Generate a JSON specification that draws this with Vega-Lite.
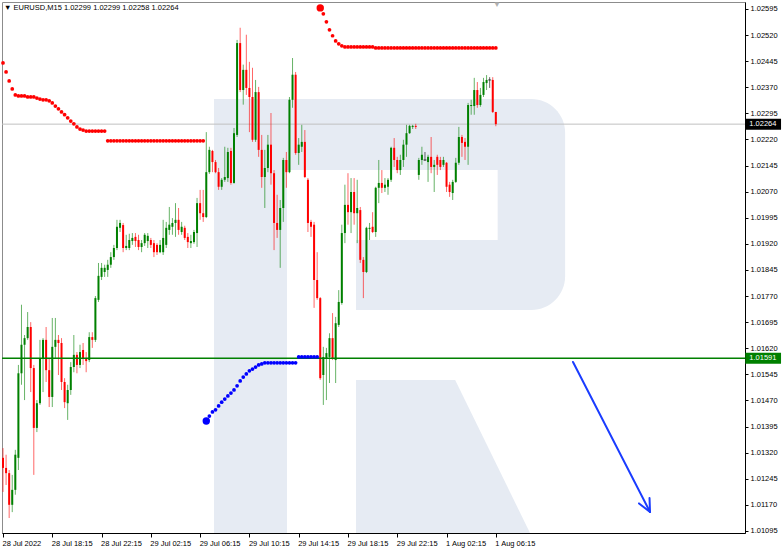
{
"$schema":"https://vega.github.io/schema/vega-lite/v6.json",
"width":743,"height":531,
"autosize":{"type":"none"},
"padding":{"left":2,"top":2,"right":37,"bottom":17},
"background":"#ffffff",
"config":{"view":{"stroke":"#8c8c8c","strokeWidth":1},"axis":{"labelFont":"Liberation Sans","labelFontSize":7.5,"labelColor":"#000000","domainColor":"#000000","tickColor":"#000000","grid":false,"labelOverlap":false}},
"datasets":{
"candles":[
{"i":0,"o":1.01305,"h":1.01333,"l":1.01207,"c":1.01276},
{"i":1,"o":1.01276,"h":1.01314,"l":1.01227,"c":1.01261},
{"i":2,"o":1.01261,"h":1.01270,"l":1.01132,"c":1.01170},
{"i":3,"o":1.01170,"h":1.01256,"l":1.01149,"c":1.01213},
{"i":4,"o":1.01213,"h":1.01328,"l":1.01199,"c":1.01314},
{"i":5,"o":1.01305,"h":1.01572,"l":1.01270,"c":1.01548},
{"i":6,"o":1.01548,"h":1.01745,"l":1.01515,"c":1.01630},
{"i":7,"o":1.01630,"h":1.01658,"l":1.01471,"c":1.01649},
{"i":8,"o":1.01649,"h":1.01724,"l":1.01644,"c":1.01681},
{"i":9,"o":1.01681,"h":1.01695,"l":1.01494,"c":1.01563},
{"i":10,"o":1.01563,"h":1.01572,"l":1.01256,"c":1.01391},
{"i":11,"o":1.01391,"h":1.01471,"l":1.01379,"c":1.01462},
{"i":12,"o":1.01462,"h":1.01644,"l":1.01457,"c":1.01592},
{"i":13,"o":1.01592,"h":1.01649,"l":1.01494,"c":1.01644},
{"i":14,"o":1.01644,"h":1.01681,"l":1.01523,"c":1.01557},
{"i":15,"o":1.01557,"h":1.01592,"l":1.01451,"c":1.01480},
{"i":16,"o":1.01480,"h":1.01707,"l":1.01451,"c":1.01624},
{"i":17,"o":1.01624,"h":1.01707,"l":1.01592,"c":1.01644},
{"i":18,"o":1.01644,"h":1.01658,"l":1.01543,"c":1.01635},
{"i":19,"o":1.01635,"h":1.01649,"l":1.01500,"c":1.01523},
{"i":20,"o":1.01523,"h":1.01534,"l":1.01448,"c":1.01465},
{"i":21,"o":1.01462,"h":1.01515,"l":1.01414,"c":1.01500},
{"i":22,"o":1.01500,"h":1.01580,"l":1.01486,"c":1.01566},
{"i":23,"o":1.01566,"h":1.01658,"l":1.01551,"c":1.01601},
{"i":24,"o":1.01601,"h":1.01609,"l":1.01548,"c":1.01572},
{"i":25,"o":1.01572,"h":1.01630,"l":1.01563,"c":1.01609},
{"i":26,"o":1.01615,"h":1.01635,"l":1.01572,"c":1.01592},
{"i":27,"o":1.01592,"h":1.01609,"l":1.01551,"c":1.01583},
{"i":28,"o":1.01586,"h":1.01666,"l":1.01580,"c":1.01652},
{"i":29,"o":1.01652,"h":1.01666,"l":1.01621,"c":1.01644},
{"i":30,"o":1.01644,"h":1.01770,"l":1.01638,"c":1.01764},
{"i":31,"o":1.01759,"h":1.01865,"l":1.01753,"c":1.01828},
{"i":32,"o":1.01825,"h":1.01865,"l":1.01816,"c":1.01851},
{"i":33,"o":1.01839,"h":1.01860,"l":1.01825,"c":1.01851},
{"i":34,"o":1.01845,"h":1.01874,"l":1.01825,"c":1.01860},
{"i":35,"o":1.01860,"h":1.01896,"l":1.01851,"c":1.01882},
{"i":36,"o":1.01882,"h":1.01917,"l":1.01874,"c":1.01908},
{"i":37,"o":1.01908,"h":1.01989,"l":1.01902,"c":1.01969},
{"i":38,"o":1.01966,"h":1.01989,"l":1.01954,"c":1.01980},
{"i":39,"o":1.01974,"h":1.01980,"l":1.01896,"c":1.01908},
{"i":40,"o":1.01908,"h":1.01946,"l":1.01902,"c":1.01914},
{"i":41,"o":1.01908,"h":1.01949,"l":1.01902,"c":1.01931},
{"i":42,"o":1.01928,"h":1.01951,"l":1.01917,"c":1.01937},
{"i":43,"o":1.01940,"h":1.01951,"l":1.01911,"c":1.01928},
{"i":44,"o":1.01931,"h":1.01946,"l":1.01902,"c":1.01911},
{"i":45,"o":1.01911,"h":1.01931,"l":1.01896,"c":1.01922},
{"i":46,"o":1.01922,"h":1.01951,"l":1.01914,"c":1.01946},
{"i":47,"o":1.01928,"h":1.01951,"l":1.01908,"c":1.01943},
{"i":48,"o":1.01931,"h":1.01937,"l":1.01908,"c":1.01917},
{"i":49,"o":1.01922,"h":1.01931,"l":1.01882,"c":1.01896},
{"i":50,"o":1.01917,"h":1.01922,"l":1.01888,"c":1.01896},
{"i":51,"o":1.01896,"h":1.01931,"l":1.01893,"c":1.01917},
{"i":52,"o":1.01896,"h":1.01989,"l":1.01888,"c":1.01937},
{"i":53,"o":1.01917,"h":1.01983,"l":1.01908,"c":1.01966},
{"i":54,"o":1.01960,"h":1.02026,"l":1.01946,"c":1.01975},
{"i":55,"o":1.01969,"h":1.01994,"l":1.01946,"c":1.01980},
{"i":56,"o":1.01980,"h":1.02037,"l":1.01940,"c":1.01989},
{"i":57,"o":1.01989,"h":1.02023,"l":1.01946,"c":1.01960},
{"i":58,"o":1.01954,"h":1.01983,"l":1.01946,"c":1.01969},
{"i":59,"o":1.01966,"h":1.01972,"l":1.01931,"c":1.01937},
{"i":60,"o":1.01940,"h":1.01951,"l":1.01908,"c":1.01925},
{"i":61,"o":1.01922,"h":1.01946,"l":1.01908,"c":1.01928},
{"i":62,"o":1.01925,"h":1.01960,"l":1.01920,"c":1.01954},
{"i":63,"o":1.01951,"h":1.02052,"l":1.01911,"c":1.02037},
{"i":64,"o":1.02037,"h":1.02075,"l":1.01989,"c":1.02008},
{"i":65,"o":1.02008,"h":1.02075,"l":1.01983,"c":1.01997},
{"i":66,"o":1.01997,"h":1.02241,"l":1.01994,"c":1.02126},
{"i":67,"o":1.02126,"h":1.02199,"l":1.02121,"c":1.02190},
{"i":68,"o":1.02187,"h":1.02190,"l":1.02126,"c":1.02155},
{"i":69,"o":1.02155,"h":1.02161,"l":1.02123,"c":1.02126},
{"i":70,"o":1.02126,"h":1.02138,"l":1.02075,"c":1.02084},
{"i":71,"o":1.02084,"h":1.02109,"l":1.02075,"c":1.02104},
{"i":72,"o":1.02104,"h":1.02199,"l":1.02098,"c":1.02112},
{"i":73,"o":1.02109,"h":1.02196,"l":1.02098,"c":1.02184},
{"i":74,"o":1.02187,"h":1.02196,"l":1.02090,"c":1.02095},
{"i":75,"o":1.02095,"h":1.02253,"l":1.02093,"c":1.02238},
{"i":76,"o":1.02233,"h":1.02506,"l":1.02227,"c":1.02497},
{"i":77,"o":1.02497,"h":1.02541,"l":1.02356,"c":1.02362},
{"i":78,"o":1.02362,"h":1.02435,"l":1.02320,"c":1.02420},
{"i":79,"o":1.02420,"h":1.02521,"l":1.02348,"c":1.02368},
{"i":80,"o":1.02368,"h":1.02443,"l":1.02241,"c":1.02342},
{"i":81,"o":1.02342,"h":1.02426,"l":1.02213,"c":1.02219},
{"i":82,"o":1.02219,"h":1.02391,"l":1.02213,"c":1.02356},
{"i":83,"o":1.02356,"h":1.02371,"l":1.02170,"c":1.02190},
{"i":84,"o":1.02190,"h":1.02233,"l":1.02081,"c":1.02112},
{"i":85,"o":1.02112,"h":1.02190,"l":1.02023,"c":1.02138},
{"i":86,"o":1.02138,"h":1.02233,"l":1.02126,"c":1.02205},
{"i":87,"o":1.02205,"h":1.02296,"l":1.02090,"c":1.02123},
{"i":88,"o":1.02123,"h":1.02132,"l":1.01902,"c":1.01980},
{"i":89,"o":1.01980,"h":1.02061,"l":1.01937,"c":1.01960},
{"i":90,"o":1.01960,"h":1.02046,"l":1.01851,"c":1.02023},
{"i":91,"o":1.02023,"h":1.02167,"l":1.01983,"c":1.02161},
{"i":92,"o":1.02161,"h":1.02184,"l":1.02081,"c":1.02126},
{"i":93,"o":1.02126,"h":1.02342,"l":1.02123,"c":1.02334},
{"i":94,"o":1.02334,"h":1.02454,"l":1.02311,"c":1.02406},
{"i":95,"o":1.02406,"h":1.02414,"l":1.02176,"c":1.02181},
{"i":96,"o":1.02181,"h":1.02224,"l":1.02147,"c":1.02205},
{"i":97,"o":1.02199,"h":1.02262,"l":1.02184,"c":1.02213},
{"i":98,"o":1.02213,"h":1.02247,"l":1.02109,"c":1.02112},
{"i":99,"o":1.02104,"h":1.02109,"l":1.01954,"c":1.01980},
{"i":100,"o":1.01983,"h":1.01989,"l":1.01940,"c":1.01969},
{"i":101,"o":1.01975,"h":1.01983,"l":1.01736,"c":1.01816},
{"i":102,"o":1.01816,"h":1.01896,"l":1.01759,"c":1.01764},
{"i":103,"o":1.01764,"h":1.01767,"l":1.01529,"c":1.01534},
{"i":104,"o":1.01543,"h":1.01624,"l":1.01457,"c":1.01595},
{"i":105,"o":1.01592,"h":1.01621,"l":1.01471,"c":1.01606},
{"i":106,"o":1.01595,"h":1.01663,"l":1.01520,"c":1.01649},
{"i":107,"o":1.01649,"h":1.01721,"l":1.01586,"c":1.01592},
{"i":108,"o":1.01586,"h":1.01710,"l":1.01520,"c":1.01692},
{"i":109,"o":1.01687,"h":1.01787,"l":1.01681,"c":1.01753},
{"i":110,"o":1.01750,"h":1.01975,"l":1.01745,"c":1.01951},
{"i":111,"o":1.01951,"h":1.02090,"l":1.01922,"c":1.02032},
{"i":112,"o":1.02032,"h":1.02123,"l":1.01975,"c":1.02011},
{"i":113,"o":1.02011,"h":1.02109,"l":1.01951,"c":1.02069},
{"i":114,"o":1.02069,"h":1.02109,"l":1.01975,"c":1.02008},
{"i":115,"o":1.02008,"h":1.02104,"l":1.01922,"c":1.02023},
{"i":116,"o":1.02017,"h":1.02026,"l":1.01865,"c":1.01874},
{"i":117,"o":1.01874,"h":1.01882,"l":1.01764,"c":1.01839},
{"i":118,"o":1.01839,"h":1.01969,"l":1.01836,"c":1.01966},
{"i":119,"o":1.01963,"h":1.01980,"l":1.01931,"c":1.01966},
{"i":120,"o":1.01969,"h":1.02011,"l":1.01951,"c":1.01954},
{"i":121,"o":1.01954,"h":1.02084,"l":1.01940,"c":1.02081},
{"i":122,"o":1.02081,"h":1.02161,"l":1.02037,"c":1.02095},
{"i":123,"o":1.02095,"h":1.02132,"l":1.02066,"c":1.02081},
{"i":124,"o":1.02081,"h":1.02109,"l":1.02069,"c":1.02090},
{"i":125,"o":1.02084,"h":1.02109,"l":1.02061,"c":1.02104},
{"i":126,"o":1.02104,"h":1.02199,"l":1.02098,"c":1.02196},
{"i":127,"o":1.02196,"h":1.02224,"l":1.02141,"c":1.02161},
{"i":128,"o":1.02161,"h":1.02170,"l":1.02123,"c":1.02132},
{"i":129,"o":1.02132,"h":1.02176,"l":1.02118,"c":1.02161},
{"i":130,"o":1.02161,"h":1.02219,"l":1.02141,"c":1.02205},
{"i":131,"o":1.02205,"h":1.02262,"l":1.02170,"c":1.02238},
{"i":132,"o":1.02238,"h":1.02262,"l":1.02236,"c":1.02259},
{"i":133,"o":1.02256,"h":1.02262,"l":1.02250,"c":1.02259},
{"i":134,"o":1.02259,"h":1.02265,"l":1.02250,"c":1.02256},
{"i":135,"o":1.02118,"h":1.02167,"l":1.02104,"c":1.02161},
{"i":136,"o":1.02161,"h":1.02199,"l":1.02147,"c":1.02176},
{"i":137,"o":1.02161,"h":1.02184,"l":1.02158,"c":1.02161},
{"i":138,"o":1.02155,"h":1.02176,"l":1.02098,"c":1.02170},
{"i":139,"o":1.02170,"h":1.02227,"l":1.02123,"c":1.02141},
{"i":140,"o":1.02141,"h":1.02161,"l":1.02069,"c":1.02147},
{"i":141,"o":1.02170,"h":1.02176,"l":1.02118,"c":1.02147},
{"i":142,"o":1.02161,"h":1.02170,"l":1.02132,"c":1.02141},
{"i":143,"o":1.02147,"h":1.02170,"l":1.02141,"c":1.02161},
{"i":144,"o":1.02153,"h":1.02155,"l":1.02069,"c":1.02084},
{"i":145,"o":1.02090,"h":1.02098,"l":1.02055,"c":1.02069},
{"i":146,"o":1.02066,"h":1.02104,"l":1.02046,"c":1.02098},
{"i":147,"o":1.02098,"h":1.02167,"l":1.02095,"c":1.02153},
{"i":148,"o":1.02153,"h":1.02256,"l":1.02147,"c":1.02227},
{"i":149,"o":1.02227,"h":1.02233,"l":1.02170,"c":1.02210},
{"i":150,"o":1.02213,"h":1.02224,"l":1.02161,"c":1.02199},
{"i":151,"o":1.02199,"h":1.02325,"l":1.02147,"c":1.02319},
{"i":152,"o":1.02316,"h":1.02334,"l":1.02291,"c":1.02319},
{"i":153,"o":1.02316,"h":1.02397,"l":1.02291,"c":1.02362},
{"i":154,"o":1.02362,"h":1.02385,"l":1.02311,"c":1.02319},
{"i":155,"o":1.02319,"h":1.02368,"l":1.02314,"c":1.02348},
{"i":156,"o":1.02348,"h":1.02397,"l":1.02342,"c":1.02385},
{"i":157,"o":1.02382,"h":1.02405,"l":1.02362,"c":1.02391},
{"i":158,"o":1.02391,"h":1.02399,"l":1.02368,"c":1.02391},
{"i":159,"o":1.02391,"h":1.02399,"l":1.02296,"c":1.02299},
{"i":160,"o":1.02299,"h":1.02299,"l":1.02258,"c":1.02264}
],
"sar":[
{"i":0,"v":1.02440,"s":"r"},{"i":1,"v":1.02414,"s":"r"},{"i":2,"v":1.02388,"s":"r"},{"i":3,"v":1.02365,"s":"r"},{"i":4,"v":1.02348,"s":"r"},{"i":5,"v":1.02345,"s":"r"},{"i":6,"v":1.02345,"s":"r"},{"i":7,"v":1.02345,"s":"r"},{"i":8,"v":1.02342,"s":"r"},{"i":9,"v":1.02342,"s":"r"},{"i":10,"v":1.02342,"s":"r"},{"i":11,"v":1.02339,"s":"r"},{"i":12,"v":1.02336,"s":"r"},{"i":13,"v":1.02334,"s":"r"},{"i":14,"v":1.02334,"s":"r"},{"i":15,"v":1.02331,"s":"r"},{"i":16,"v":1.02325,"s":"r"},{"i":17,"v":1.02316,"s":"r"},{"i":18,"v":1.02308,"s":"r"},{"i":19,"v":1.02299,"s":"r"},{"i":20,"v":1.02291,"s":"r"},{"i":21,"v":1.02282,"s":"r"},{"i":22,"v":1.02273,"s":"r"},{"i":23,"v":1.02265,"s":"r"},{"i":24,"v":1.02256,"s":"r"},{"i":25,"v":1.02250,"s":"r"},{"i":26,"v":1.02247,"s":"r"},{"i":27,"v":1.02244,"s":"r"},{"i":28,"v":1.02244,"s":"r"},{"i":29,"v":1.02244,"s":"r"},{"i":30,"v":1.02244,"s":"r"},{"i":31,"v":1.02244,"s":"r"},{"i":32,"v":1.02244,"s":"r"},{"i":33,"v":1.02244,"s":"r"},
{"i":34,"v":1.02216,"s":"r"},{"i":35,"v":1.02216,"s":"r"},{"i":36,"v":1.02216,"s":"r"},{"i":37,"v":1.02216,"s":"r"},{"i":38,"v":1.02216,"s":"r"},{"i":39,"v":1.02216,"s":"r"},{"i":40,"v":1.02216,"s":"r"},{"i":41,"v":1.02216,"s":"r"},{"i":42,"v":1.02216,"s":"r"},{"i":43,"v":1.02216,"s":"r"},{"i":44,"v":1.02216,"s":"r"},{"i":45,"v":1.02216,"s":"r"},{"i":46,"v":1.02216,"s":"r"},{"i":47,"v":1.02216,"s":"r"},{"i":48,"v":1.02216,"s":"r"},{"i":49,"v":1.02216,"s":"r"},{"i":50,"v":1.02216,"s":"r"},{"i":51,"v":1.02216,"s":"r"},{"i":52,"v":1.02216,"s":"r"},{"i":53,"v":1.02216,"s":"r"},{"i":54,"v":1.02216,"s":"r"},{"i":55,"v":1.02216,"s":"r"},{"i":56,"v":1.02216,"s":"r"},{"i":57,"v":1.02216,"s":"r"},{"i":58,"v":1.02216,"s":"r"},{"i":59,"v":1.02216,"s":"r"},{"i":60,"v":1.02216,"s":"r"},{"i":61,"v":1.02216,"s":"r"},{"i":62,"v":1.02216,"s":"r"},{"i":63,"v":1.02216,"s":"r"},{"i":64,"v":1.02216,"s":"r"},{"i":65,"v":1.02216,"s":"r"},
{"i":66,"v":1.01411,"s":"b"},{"i":67,"v":1.01425,"s":"b"},{"i":68,"v":1.01437,"s":"b"},{"i":69,"v":1.01443,"s":"b"},{"i":70,"v":1.01454,"s":"b"},{"i":71,"v":1.01465,"s":"b"},{"i":72,"v":1.01474,"s":"b"},{"i":73,"v":1.01483,"s":"b"},{"i":74,"v":1.01491,"s":"b"},{"i":75,"v":1.01500,"s":"b"},{"i":76,"v":1.01512,"s":"b"},{"i":77,"v":1.01526,"s":"b"},{"i":78,"v":1.01537,"s":"b"},{"i":79,"v":1.01546,"s":"b"},{"i":80,"v":1.01555,"s":"b"},{"i":81,"v":1.01560,"s":"b"},{"i":82,"v":1.01566,"s":"b"},{"i":83,"v":1.01572,"s":"b"},{"i":84,"v":1.01575,"s":"b"},{"i":85,"v":1.01578,"s":"b"},{"i":86,"v":1.01578,"s":"b"},{"i":87,"v":1.01578,"s":"b"},{"i":88,"v":1.01578,"s":"b"},{"i":89,"v":1.01578,"s":"b"},{"i":90,"v":1.01578,"s":"b"},{"i":91,"v":1.01578,"s":"b"},{"i":92,"v":1.01578,"s":"b"},{"i":93,"v":1.01578,"s":"b"},{"i":94,"v":1.01578,"s":"b"},{"i":95,"v":1.01578,"s":"b"},{"i":96,"v":1.01595,"s":"b"},{"i":97,"v":1.01595,"s":"b"},{"i":98,"v":1.01595,"s":"b"},{"i":99,"v":1.01595,"s":"b"},{"i":100,"v":1.01595,"s":"b"},{"i":101,"v":1.01595,"s":"b"},{"i":102,"v":1.01595,"s":"b"},
{"i":103,"v":1.02598,"s":"r"},{"i":104,"v":1.02581,"s":"r"},{"i":105,"v":1.02558,"s":"r"},{"i":106,"v":1.02535,"s":"r"},{"i":107,"v":1.02518,"s":"r"},{"i":108,"v":1.02503,"s":"r"},{"i":109,"v":1.02495,"s":"r"},{"i":110,"v":1.02489,"s":"r"},{"i":111,"v":1.02486,"s":"r"},{"i":112,"v":1.02486,"s":"r"},{"i":113,"v":1.02486,"s":"r"},{"i":114,"v":1.02486,"s":"r"},{"i":115,"v":1.02486,"s":"r"},{"i":116,"v":1.02486,"s":"r"},{"i":117,"v":1.02486,"s":"r"},{"i":118,"v":1.02486,"s":"r"},{"i":119,"v":1.02486,"s":"r"},{"i":120,"v":1.02486,"s":"r"},
{"i":121,"v":1.02483,"s":"r"},{"i":122,"v":1.02483,"s":"r"},{"i":123,"v":1.02483,"s":"r"},{"i":124,"v":1.02483,"s":"r"},{"i":125,"v":1.02483,"s":"r"},{"i":126,"v":1.02483,"s":"r"},{"i":127,"v":1.02483,"s":"r"},{"i":128,"v":1.02483,"s":"r"},{"i":129,"v":1.02483,"s":"r"},{"i":130,"v":1.02483,"s":"r"},{"i":131,"v":1.02483,"s":"r"},{"i":132,"v":1.02483,"s":"r"},{"i":133,"v":1.02483,"s":"r"},{"i":134,"v":1.02483,"s":"r"},{"i":135,"v":1.02483,"s":"r"},{"i":136,"v":1.02483,"s":"r"},{"i":137,"v":1.02483,"s":"r"},{"i":138,"v":1.02483,"s":"r"},{"i":139,"v":1.02483,"s":"r"},{"i":140,"v":1.02483,"s":"r"},{"i":141,"v":1.02483,"s":"r"},{"i":142,"v":1.02483,"s":"r"},{"i":143,"v":1.02483,"s":"r"},{"i":144,"v":1.02483,"s":"r"},{"i":145,"v":1.02483,"s":"r"},{"i":146,"v":1.02483,"s":"r"},{"i":147,"v":1.02483,"s":"r"},{"i":148,"v":1.02483,"s":"r"},{"i":149,"v":1.02483,"s":"r"},{"i":150,"v":1.02483,"s":"r"},{"i":151,"v":1.02483,"s":"r"},{"i":152,"v":1.02483,"s":"r"},{"i":153,"v":1.02483,"s":"r"},{"i":154,"v":1.02483,"s":"r"},{"i":155,"v":1.02483,"s":"r"},{"i":156,"v":1.02483,"s":"r"},{"i":157,"v":1.02483,"s":"r"},{"i":158,"v":1.02483,"s":"r"},{"i":159,"v":1.02483,"s":"r"},{"i":160,"v":1.02483,"s":"r"}
],
"logo":[
{"x1":68.5,"x2":92.2,"y1":1.02336,"y2":1.01089},
{"x1":68.5,"x2":166,"y1":1.02336,"y2":1.02132},
{"x1":114.6,"x2":166,"y1":1.01931,"y2":1.0173}
],
"bowl":[{"x1":160.6,"x2":182.5,"y1":1.02336,"y2":1.0173}],
"leg":[{"p":1.01529,"xl":114.6,"xr":146.8},{"p":1.01089,"xl":114.6,"xr":171.1}],
"arrow":[
{"x":185.06,"y":1.015806,"x2":210.06,"y2":1.011495},
{"x":209.9,"y":1.011897,"x2":210.06,"y2":1.011495},
{"x":206.5,"y":1.01174,"x2":210.06,"y2":1.011495}
],
"tags":[{"p":1.02264,"t":"1.02264","bg":"#000000"},{"p":1.01591,"t":"1.01591","bg":"#008000"}]
},
"layer":[
{"data":{"name":"candles"},"mark":{"type":"rule","opacity":0},
 "encoding":{
 "x":{"field":"i","type":"quantitative","scale":{"domain":[-0.325,240.9],"nice":false,"zero":false,"padding":0},
  "axis":{"title":null,"values":[0,16,32,48,64,80,96,112,128,144,160],"tickCount":50,"labelAlign":"left","labelPadding":2,"tickSize":4,"labelOffset":-1,"labelOverlap":false,
  "labelExpr":"['28 Jul 2022','28 Jul 18:15','28 Jul 22:15','29 Jul 02:15','29 Jul 06:15','29 Jul 10:15','29 Jul 14:15','29 Jul 18:15','29 Jul 22:15','1 Aug 02:15','1 Aug 06:15'][round(datum.value/16)]"}},
 "y":{"field":"l","type":"quantitative","scale":{"domain":[1.01089,1.02615],"nice":false,"zero":false,"padding":0},
  "axis":{"title":null,"orient":"right","values":[1.01095,1.0117,1.01245,1.0132,1.01395,1.0147,1.01545,1.0162,1.01695,1.0177,1.01845,1.0192,1.01995,1.0207,1.02145,1.0222,1.02295,1.0237,1.02445,1.0252,1.02595],"tickCount":50,"format":".5f","tickSize":3,"labelPadding":2,"labelOverlap":false}},
 "y2":{"field":"h"}}},
{"data":{"name":"logo"},"mark":{"type":"rect","color":"#e6ebf3"},
 "encoding":{"x":{"field":"x1","type":"quantitative","title":null},"x2":{"field":"x2"},
 "y":{"field":"y1","type":"quantitative","title":null},"y2":{"field":"y2"}}},
{"data":{"name":"bowl"},"mark":{"type":"rect","color":"#e6ebf3","cornerRadiusTopRight":38,"cornerRadiusBottomRight":38},
 "encoding":{"x":{"field":"x1","type":"quantitative","title":null},"x2":{"field":"x2"},
 "y":{"field":"y1","type":"quantitative","title":null},"y2":{"field":"y2"}}},
{"data":{"name":"leg"},"mark":{"type":"area","orient":"horizontal","color":"#e6ebf3"},
 "encoding":{"y":{"field":"p","type":"quantitative","title":null},
 "x":{"field":"xl","type":"quantitative","title":null},"x2":{"field":"xr"}}},
{"data":{"values":[{}]},"mark":{"type":"rule","color":"#c0c0c0","strokeWidth":1},
 "encoding":{"y":{"datum":1.02264,"type":"quantitative","title":null}}},
{"data":{"name":"candles"},"mark":{"type":"rule","strokeWidth":1,"opacity":0.6},
 "encoding":{
 "x":{"field":"i","type":"quantitative","title":null},
 "y":{"field":"l","type":"quantitative","title":null},
 "y2":{"field":"h"},
 "color":{"condition":[{"test":"datum.c>datum.o","value":"#008000"},{"test":"datum.c<datum.o","value":"#ff0000"}],"value":"#000000"}}},
{"data":{"name":"candles"},"mark":{"type":"bar","size":2},
 "encoding":{"x":{"field":"i","type":"quantitative","title":null},
 "y":{"field":"o","type":"quantitative","title":null},"y2":{"field":"c"},
 "color":{"condition":{"test":"datum.c>datum.o","value":"#008000"},"value":"#ff0000"}}},
{"data":{"name":"candles"},"transform":[{"filter":"datum.o==datum.c"}],"mark":{"type":"tick","orient":"horizontal","size":3,"thickness":1,"color":"#000000"},
 "encoding":{"x":{"field":"i","type":"quantitative","title":null},
 "y":{"field":"o","type":"quantitative","title":null}}},
{"data":{"values":[{}]},"mark":{"type":"rule","color":"#008000","strokeWidth":1.5},
 "encoding":{"y":{"datum":1.01591,"type":"quantitative","title":null}}},
{"data":{"name":"sar"},"mark":{"type":"circle","opacity":1},
 "encoding":{"x":{"field":"i","type":"quantitative","title":null},
 "y":{"field":"v","type":"quantitative","title":null},
 "size":{"condition":{"test":"datum.i==66||datum.i==103","value":55},"value":14},
 "color":{"condition":{"test":"datum.s=='b'","value":"#0000ff"},"value":"#ff0000"}}},
{"data":{"name":"arrow"},"mark":{"type":"rule","color":"#1a3cff","strokeWidth":2,"strokeCap":"round"},
 "encoding":{"x":{"field":"x","type":"quantitative","title":null},"x2":{"field":"x2"},
 "y":{"field":"y","type":"quantitative","title":null},"y2":{"field":"y2"}}},
{"data":{"name":"tags"},"mark":{"type":"rect","yOffset":-5.5,"y2Offset":5.5},
 "encoding":{"x":{"datum":241.0,"type":"quantitative","title":null},"x2":{"datum":252.6},
 "y":{"field":"p","type":"quantitative","title":null},"y2":{"field":"p"},
 "color":{"field":"bg","type":"nominal","scale":null}}},
{"data":{"name":"tags"},"mark":{"type":"text","align":"left","baseline":"middle","dx":4,"color":"#ffffff","font":"Liberation Sans","fontSize":7.5},
 "encoding":{"x":{"datum":241.0,"type":"quantitative","title":null},
 "y":{"field":"p","type":"quantitative","title":null},
 "text":{"field":"t"}}},
{"data":{"values":[{}]},"mark":{"type":"text","align":"left","baseline":"middle","dx":2,"dy":6,"color":"#000000","font":"Liberation Sans","fontSize":7.5,"text":"▼ EURUSD,M15  1.02299 1.02299 1.02258 1.02264"},
 "encoding":{"x":{"datum":-0.325,"type":"quantitative","title":null},
 "y":{"datum":1.02615,"type":"quantitative","title":null}}},
{"data":{"values":[{}]},"mark":{"type":"text","align":"center","baseline":"top","dy":-1,"color":"#b0b0b0","fontSize":8,"text":"▼"},
 "encoding":{"x":{"datum":160.4,"type":"quantitative","title":null},
 "y":{"datum":1.02615,"type":"quantitative","title":null}}}
]
}
